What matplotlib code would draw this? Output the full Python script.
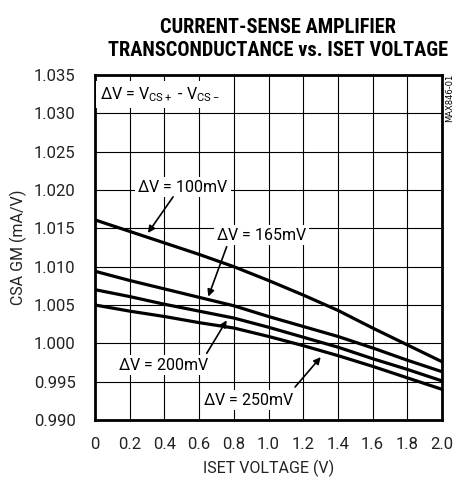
import matplotlib
matplotlib.use("Agg")
import matplotlib.pyplot as plt
import numpy as np

# data
iset_v = [0.0, 0.2, 0.4, 0.6, 0.8, 1.0, 1.2, 1.4, 1.6, 1.8, 2.0]
gm_100mv = [1.0161, 1.0146, 1.0131, 1.0116, 1.0100, 1.0082, 1.0063, 1.0043, 1.0020, 0.9998, 0.9976]
gm_165mv = [1.0094, 1.0082, 1.0071, 1.0060, 1.0049, 1.0035, 1.0022, 1.0009, 0.9994, 0.9978, 0.9963]
gm_200mv = [1.0070, 1.0061, 1.0051, 1.0042, 1.0033, 1.0021, 1.0008, 0.9995, 0.9980, 0.9966, 0.9951]
gm_250mv = [1.0050, 1.0042, 1.0035, 1.0027, 1.0020, 1.0009, 0.9997, 0.9984, 0.9970, 0.9955, 0.9940]

x_ticks = [0, 0.2, 0.4, 0.6, 0.8, 1.0, 1.2, 1.4, 1.6, 1.8, 2.0]
x_ticklabels = ["0", "0.2", "0.4", "0.6", "0.8", "1.0", "1.2", "1.4", "1.6", "1.8", "2.0"]
y_ticks = [0.990, 0.995, 1.000, 1.005, 1.010, 1.015, 1.020, 1.025, 1.030, 1.035]

plt.rcParams['font.family'] = ['Roboto', 'DejaVu Sans']
plt.rcParams['mathtext.fontset'] = 'custom'
plt.rcParams['mathtext.rm'] = 'Roboto'

fig = plt.figure(figsize=(4.55, 4.82), dpi=100)
ax = fig.add_axes([95 / 455, 1 - 420 / 482, 347 / 455, 345 / 482])

for gm in [gm_100mv, gm_165mv, gm_200mv, gm_250mv]:
    ax.plot(iset_v, gm, color='black', linewidth=2.3, zorder=3)

ax.set_xlim(0, 2.0)
ax.set_ylim(0.990, 1.035)
ax.set_xticks(x_ticks)
ax.set_xticklabels(x_ticklabels)
ax.set_yticks(y_ticks)
ax.set_yticklabels(["%.3f" % v for v in y_ticks])
ax.tick_params(axis='x', length=0, labelsize=12, pad=12, colors='#222222')
ax.tick_params(axis='y', length=0, labelsize=12, pad=14, colors='#222222')
ax.grid(True, color='black', linewidth=0.8)
for s in ax.spines.values():
    s.set_linewidth(2)

ax.set_xlabel("ISET VOLTAGE (V)", fontsize=11.5, labelpad=6, color='#222222')
ax.set_ylabel("CSA GM (mA/V)", fontsize=11.5, labelpad=5, color='#222222')

fig.text(278 / 455, 1 - 39 / 482, "CURRENT-SENSE AMPLIFIER\nTRANSCONDUCTANCE vs. ISET VOLTAGE",
         ha='center', va='center', fontsize=14.7, fontweight='bold',
         family=['Liberation Sans Narrow', 'Roboto Condensed', 'DejaVu Sans'], linespacing=1.3)
fig.text(450 / 455, 1 - 98 / 482, "MAX846-01", rotation=90, ha='center', va='center', fontsize=6,
         family=['Liberation Sans Narrow', 'DejaVu Sans'])

box = dict(facecolor='white', edgecolor='none', pad=1.5)
ax.text(0.03, 1.0325, r"$\Delta$V = V$_{\mathrm{CS+}}$ - V$_{\mathrm{CS-}}$", fontsize=11.5,
        ha='left', va='center', bbox=dict(facecolor='white', edgecolor='none', pad=3), zorder=4)

ax.text(0.507, 1.0204, r"$\Delta$V = 100mV", fontsize=11.5, ha='center', va='center', bbox=box, zorder=4)
ax.text(0.96, 1.0141, r"$\Delta$V = 165mV", fontsize=11.5, ha='center', va='center', bbox=box, zorder=4)
ax.text(0.394, 0.9972, r"$\Delta$V = 200mV", fontsize=11.5, ha='center', va='center', bbox=box, zorder=4)
ax.text(0.884, 0.9926, r"$\Delta$V = 250mV", fontsize=11.5, ha='center', va='center', bbox=box, zorder=4)

arrow = dict(arrowstyle='-|>', color='black', linewidth=1.2, mutation_scale=10, shrinkA=0, shrinkB=0)
ax.annotate("", xy=(0.305, 1.0144), xytext=(0.45, 1.0191), arrowprops=arrow, zorder=5)
ax.annotate("", xy=(0.653, 1.0061), xytext=(0.759, 1.0126), arrowprops=arrow, zorder=5)
ax.annotate("", xy=(0.759, 1.0030), xytext=(0.644, 0.9987), arrowprops=arrow, zorder=5)
ax.annotate("", xy=(1.301, 0.9982), xytext=(1.153, 0.9943), arrowprops=arrow, zorder=5)

fig.savefig("out.png", dpi=100)
